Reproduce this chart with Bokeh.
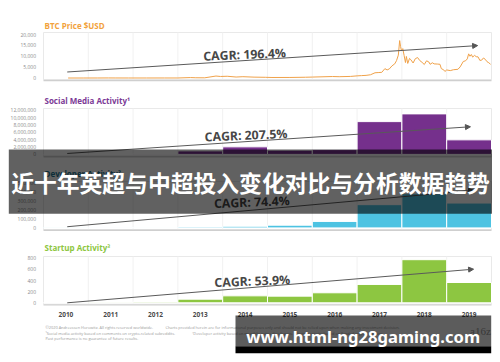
from bokeh.plotting import figure
from bokeh.models import Range1d, Arrow, NormalHead
from bokeh.core.properties import value
from bokeh.embed import file_html
from bokeh.resources import INLINE

# ---------------- data ----------------
years = [2010, 2011, 2012, 2013, 2014, 2015, 2016, 2017, 2018, 2019]
year_labels = ["2010", "2011", "2012", "2013", "2014", "2015", "2016", "2017", "2018", "2019"]

social_comments = [10000, 60000, 120000, 950000, 2050000, 1150000, 1300000, 8900000, 11000000, 3950000]
dev_activity = [1000, 3000, 5000, 10000, 18000, 30000, 72000, 258000, 380000, 276000]
startup_activity = [2, 10, 15, 65, 125, 120, 180, 330, 775, 365]

btc_t = [2010.55, 2010.9, 2011.2, 2011.45, 2011.6, 2011.9, 2012.3, 2012.7, 2013.0, 2013.28,
         2013.4, 2013.6, 2013.85, 2013.95, 2014.1, 2014.3, 2014.45, 2014.7, 2014.95, 2015.1,
         2015.5, 2015.85, 2016.0, 2016.45, 2016.6, 2016.85, 2017.0, 2017.1, 2017.2, 2017.3,
         2017.4, 2017.47, 2017.55, 2017.62, 2017.67, 2017.72, 2017.78, 2017.84, 2017.88, 2017.92,
         2017.95, 2017.97, 2017.99, 2018.02, 2018.05, 2018.08, 2018.1, 2018.13, 2018.17, 2018.2,
         2018.25, 2018.3, 2018.35, 2018.4, 2018.45, 2018.5, 2018.55, 2018.6, 2018.63, 2018.68,
         2018.72, 2018.8, 2018.85, 2018.88, 2018.93, 2018.96, 2019.0, 2019.08, 2019.15, 2019.25,
         2019.3, 2019.37, 2019.42, 2019.46, 2019.49, 2019.52, 2019.55, 2019.58, 2019.62, 2019.66,
         2019.7, 2019.74, 2019.78, 2019.82, 2019.86, 2019.9, 2019.94, 2019.98]
btc_usd = [0, 0, 1, 25, 13, 3, 5, 12, 14, 200,
           110, 90, 900, 700, 800, 450, 600, 400, 320, 230,
           250, 350, 430, 680, 600, 720, 980, 1100, 1200, 1500,
           2400, 2500, 2600, 4300, 3700, 4200, 5600, 6500, 8000, 10500,
           17200, 14500, 12600, 13500, 10300, 7100, 9900, 6700, 9000, 8400,
           6900, 8900, 9400, 8000, 7200, 6200, 7900, 7400, 6300, 7000,
           6500, 6400, 6300, 4300, 3800, 3000, 3700, 3400, 3800, 4000,
           5100, 7600, 7900, 8800, 11100, 10000, 10800, 9600, 10400, 9800,
           9700, 8100, 8200, 9200, 8600, 7500, 7000, 6300]

btc_ticks = [0, 5000, 10000, 15000, 20000]
btc_tick_labels = ["0", "5,000", "10,000", "15,000", "20,000"]
social_ticks = [0, 2000000, 4000000, 6000000, 8000000, 10000000, 12000000]
social_tick_labels = ["0", "2,000,000", "4,000,000", "6,000,000", "8,000,000", "10,000,000", "12,000,000"]
dev_ticks = [0, 100000, 200000, 300000, 400000, 500000]
dev_tick_labels = ["0", "100,000", "200,000", "300,000", "400,000", "500,000"]
startup_ticks = [0, 200, 400, 600, 800]
startup_tick_labels = ["0", "200", "400", "600", "800"]

titles = ["BTC Price $USD", "Social Media Activity\u00b9", "Developer Activity\u00b2", "Startup Activity\u00b3"]
cagr_labels = ["CAGR: 196.4%", "CAGR: 207.5%", "CAGR: 74.4%", "CAGR: 53.9%"]
# trend arrows: (x_start, y_start, x_end, y_end) in data units
btc_trend = (2010.03, 2760, 2019.19, 14900)
social_trend = (2010.03, 250000, 2019.03, 7500000)
dev_trend = (2010.03, 13000, 2019.1, 417000)
startup_trend = (2010.03, 0, 2019.1, 604)
# label anchors (x in years, y in data units)
btc_cagr_pos = (2013.99, 10800)
social_cagr_pos = (2014.02, 5200000)
dev_cagr_pos = (2014.15, 287000)
startup_cagr_pos = (2014.16, 391)

banner_text = "近十年英超与中超投入变化对比与分析数据趋势"
watermark_text = "www.html-ng28gaming.com"
footnotes = [
    ("\u00a92020 Andreessen Horowitz. All rights reserved worldwide.",
     "Charts provided herein are for informational purposes only and should not be relied upon when making any investment decision."),
    ("\u00b9Social media activity based on comments on crypto-related subreddits.",
     "\u00b2Developer activity based on monthly active developers.   \u00b3Startup activity based on funded crypto startups."),
    ("Past performance is no guarantee of future results.", ""),
]

# ---------------- layout helpers ----------------
PX_L, PX_R, PX_B, PX_T = 0, 492, 354, 0


def lin_range(v0, p0, v1, p1, pa, pb):
    k = (v1 - v0) / (p1 - p0)
    return Range1d(start=v0 + k * (pa - p0), end=v0 + k * (pb - p0))


p = figure(width=PX_R - PX_L, height=PX_B - PX_T, output_backend="svg", toolbar_location=None,
           x_range=Range1d(PX_L, PX_R), y_range=Range1d(PX_B, PX_T),
           x_axis_type=None, y_axis_type=None, min_border=0,
           background_fill_color="white", border_fill_color="white")
p.outline_line_color = None
p.grid.visible = False

p.extra_x_ranges = {
    "yr": lin_range(2010, 65.4, 2019, 468.6, PX_L, PX_R),
    "t": lin_range(2010, 43, 2020, 491, PX_L, PX_R),
}
p.extra_y_ranges = {
    "btc": lin_range(0, 77.5, 20000, 34, PX_B, PX_T),
    "social": lin_range(0, 153.9, 12000000, 109.7, PX_B, PX_T),
    "dev": lin_range(0, 227.4, 500000, 182.4, PX_B, PX_T),
    "startup": lin_range(0, 302.3, 800, 257.8, PX_B, PX_T),
}

FONT = value("Open Sans")
panels = [
    # name, title colour, title y, box top, box bottom, ticks, labels
    ("btc", "#F2A23C", 25, 32, 79.2, btc_ticks, btc_tick_labels),
    ("social", "#7B3A96", 100, 108, 155.4, social_ticks, social_tick_labels),
    ("dev", "#1F7796", 173, 181, 229, dev_ticks, dev_tick_labels),
    ("startup", "#8DC63F", 247.3, 256, 303.6, startup_ticks, startup_tick_labels),
]

bounds = [y + 0.5 for y in years[:-1]]
for i, (name, tcol, ty, btop, bbot, ticks, labels) in enumerate(panels):
    p.quad(left=[43], right=[491], top=[btop], bottom=[bbot],
           fill_color="white", line_color="#e9e9e9", line_width=1)
    p.segment(x0=bounds, y0=[btop] * len(bounds), x1=bounds, y1=[bbot] * len(bounds),
              x_range_name="yr", line_color="#f1f1f1", line_width=1)
    p.segment(x0=[43], y0=[bbot + 0.8], x1=[491], y1=[bbot + 0.8],
              line_color="#cfcfcf", line_width=1.4)
    p.text(x=[44], y=[ty], text=[titles[i]], text_font=FONT, text_font_style="bold",
           text_font_size="8px", text_color=tcol, text_baseline="middle")
    p.text(x=[35.5] * len(ticks), y=ticks, text=labels, y_range_name=name,
           text_font=FONT, text_font_size="5px", text_color="#8c8c8c",
           text_align="right", text_baseline="middle")

# BTC price line
p.line(x=btc_t, y=btc_usd, x_range_name="t", y_range_name="btc",
       line_color="#F0A24A", line_width=1)

# bars
p.vbar(x=years, top=social_comments, bottom=0, width=1, x_range_name="yr", y_range_name="social",
       fill_color="#75308C", line_color="white", line_width=1)
p.vbar(x=years, top=dev_activity, bottom=0, width=1, x_range_name="yr", y_range_name="dev",
       fill_color="#4DC3E2", line_color="white", line_width=1)
p.vbar(x=years, top=startup_activity, bottom=0, width=1, x_range_name="yr", y_range_name="startup",
       fill_color="#8DC641", line_color="white", line_width=1)

# trend arrows and CAGR labels
for name, trend, pos, lab in [("btc", btc_trend, btc_cagr_pos, cagr_labels[0]),
                              ("social", social_trend, social_cagr_pos, cagr_labels[1]),
                              ("dev", dev_trend, dev_cagr_pos, cagr_labels[2]),
                              ("startup", startup_trend, startup_cagr_pos, cagr_labels[3])]:
    p.add_layout(Arrow(end=NormalHead(size=5, fill_color="#555555", line_color="#555555", line_width=1),
                       x_start=trend[0], y_start=trend[1], x_end=trend[2], y_end=trend[3],
                       x_range_name="yr", y_range_name=name,
                       line_color="#5a5a5a", line_width=1))
    p.text(x=[pos[0]], y=[pos[1]], text=[lab], x_range_name="yr", y_range_name=name,
           angle=0.04, text_font=FONT, text_font_style="bold", text_font_size="12.3px",
           text_color="#474747", text_align="center", text_baseline="middle")

# year labels
p.text(x=years, y=[314.3] * len(years), text=year_labels, x_range_name="yr",
       text_font=FONT, text_font_style="bold", text_font_size="6.5px", text_color="#4a4a4a",
       text_align="center", text_baseline="middle")

# footnotes
for j, (a, b) in enumerate(footnotes):
    yy = 326.7 + j * 5.8
    p.text(x=[45], y=[yy], text=[a], text_font=FONT, text_font_size="3.9px",
           text_color="#9a9a9a", text_baseline="middle")
    if b:
        p.text(x=[165 if j == 0 else 191.5], y=[yy], text=[b], text_font=FONT, text_font_size="3.9px",
               text_color="#9a9a9a", text_baseline="middle")

p.text(x=[480], y=[330], text=["a16z"], text_font=value("Liberation Serif"), text_font_size="11px",
       text_color="#9d9d9d", text_align="center", text_baseline="middle")

# banner overlay
r = p.quad(left=[8.3], right=[491.7], top=[149], bottom=[213.3], fill_color="black",
           fill_alpha=0.62, line_color=None)
r.level = "overlay"
r = p.text(x=[250], y=[182], text=[banner_text], text_font=value("Noto Sans CJK SC"),
           text_font_style="bold", text_font_size="22.8px", text_color="white",
           text_align="center", text_baseline="middle")
r.level = "overlay"

# watermark
r = p.quad(left=[235], right=[490.7], top=[315], bottom=[345.7], fill_color="black",
           fill_alpha=0.64, line_color=None)
r.level = "overlay"
r = p.quad(left=[235], right=[490.7], top=[345.7], bottom=[352.7], fill_color="black",
           fill_alpha=1.0, line_color=None)
r.level = "overlay"
r = p.text(x=[245.7], y=[336.3], text=[watermark_text], text_font=value("Noto Sans"),
           text_font_style="bold", text_font_size="16.6px", text_color="white",
           text_align="left", text_baseline="middle")
r.level = "overlay"

open("out.html", "w").write(file_html(p, INLINE))
